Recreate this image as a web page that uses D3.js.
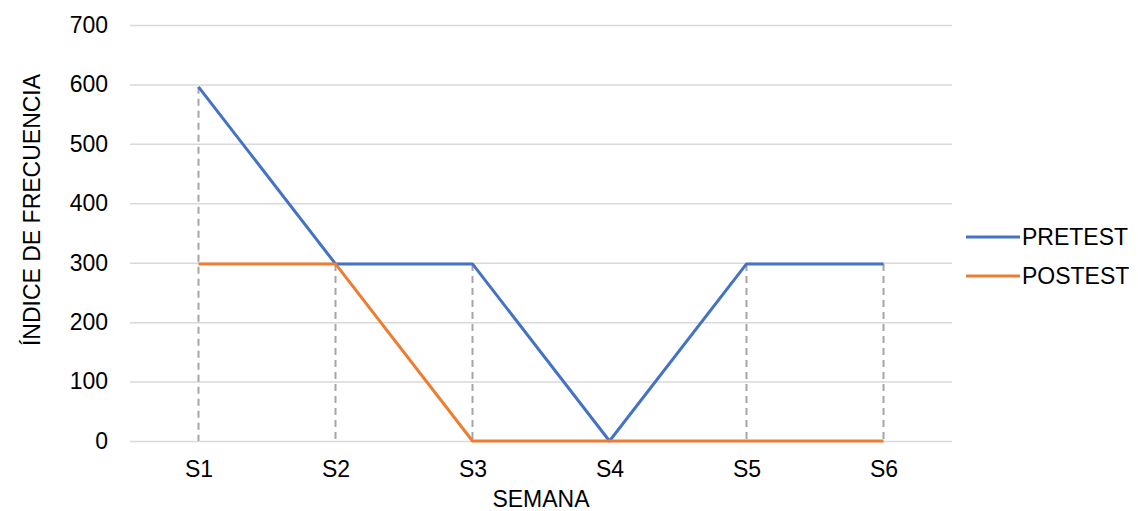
<!DOCTYPE html>
<html>
<head>
<meta charset="utf-8">
<script src="https://cdn.jsdelivr.net/npm/d3@7"></script>
<style>
  body { margin: 0; background: #fff; }
  text { font-family: Arial, "Liberation Sans", sans-serif; fill: #000; }
</style>
</head>
<body>
<div id="chart"></div>
<script>
const weeks = ["S1", "S2", "S3", "S4", "S5", "S6"]
const pretest = [596, 298, 298, 0, 298, 298]
const postest = [298, 298, 0, 0, 0, 0]
const yTicks = [0, 100, 200, 300, 400, 500, 600, 700]
const seriesNames = ["PRETEST", "POSTEST"]
const seriesColors = ["#4472c4", "#ed7d31"]

const width = 1138, height = 511
const margin = {left: 130, right: 186, top: 25, bottom: 70}
const fontSize = 23

const svg = d3.select("#chart").append("svg")
  .attr("width", width)
  .attr("height", height)

const x = d3.scalePoint()
  .domain(weeks)
  .range([margin.left, width - margin.right])
  .padding(0.5)

const y = d3.scaleLinear()
  .domain([0, 700])
  .range([height - margin.bottom, margin.top])

// gridlines + value labels
const yAxis = g => g
  .attr("transform", `translate(${margin.left},0)`)
  .call(d3.axisLeft(y).tickValues(yTicks).tickSize(-(width - margin.left - margin.right)).tickPadding(22))
  .call(g => g.select(".domain").remove())
  .call(g => g.selectAll(".tick line").attr("stroke", "#d9d9d9").attr("stroke-width", 1.5))
  .call(g => g.selectAll(".tick text").attr("font-size", fontSize).attr("fill", "#000"))

svg.append("g").call(yAxis)

const xAxis = g => g
  .attr("transform", `translate(0,${height - margin.bottom})`)
  .call(d3.axisBottom(x).tickSize(0).tickPadding(20))
  .call(g => g.select(".domain").remove())
  .call(g => g.selectAll(".tick text").attr("font-size", fontSize).attr("fill", "#000"))

svg.append("g").call(xAxis)

// drop lines
svg.append("g").selectAll("line")
  .data(weeks.map((w, i) => ({w, v: Math.max(pretest[i], postest[i])})).filter(d => d.v > 0))
  .join("line")
  .attr("x1", d => x(d.w))
  .attr("x2", d => x(d.w))
  .attr("y1", d => y(d.v))
  .attr("y2", y(0))
  .attr("stroke", "#a5a5a5")
  .attr("stroke-width", 2)
  .attr("stroke-dasharray", "7,5")

const line = d3.line()
  .x((d, i) => x(weeks[i]))
  .y(d => y(d))

const allSeries = [pretest, postest]
svg.append("g").selectAll("path")
  .data(allSeries)
  .join("path")
  .attr("d", line)
  .attr("fill", "none")
  .attr("stroke", (d, i) => seriesColors[i])
  .attr("stroke-width", 3)
  .attr("stroke-linejoin", "round")

// axis titles
svg.append("text")
  .attr("x", (margin.left + width - margin.right) / 2)
  .attr("y", 507)
  .attr("text-anchor", "middle")
  .attr("font-size", fontSize)
  .text("SEMANA")

svg.append("text")
  .attr("transform", `translate(40,210) rotate(-90)`)
  .attr("text-anchor", "middle")
  .attr("font-size", fontSize)
  .text("ÍNDICE DE FRECUENCIA")

// legend
const legend = svg.append("g")
  .selectAll("g")
  .data(seriesNames)
  .join("g")
  .attr("transform", (d, i) => `translate(966,${237 + i * 39})`)

legend.append("line")
  .attr("x1", 0)
  .attr("x2", 54)
  .attr("stroke", (d, i) => seriesColors[i])
  .attr("stroke-width", 3)

legend.append("text")
  .attr("x", 56)
  .attr("dy", "0.35em")
  .attr("font-size", fontSize)
  .text(d => d)
</script>
</body>
</html>
